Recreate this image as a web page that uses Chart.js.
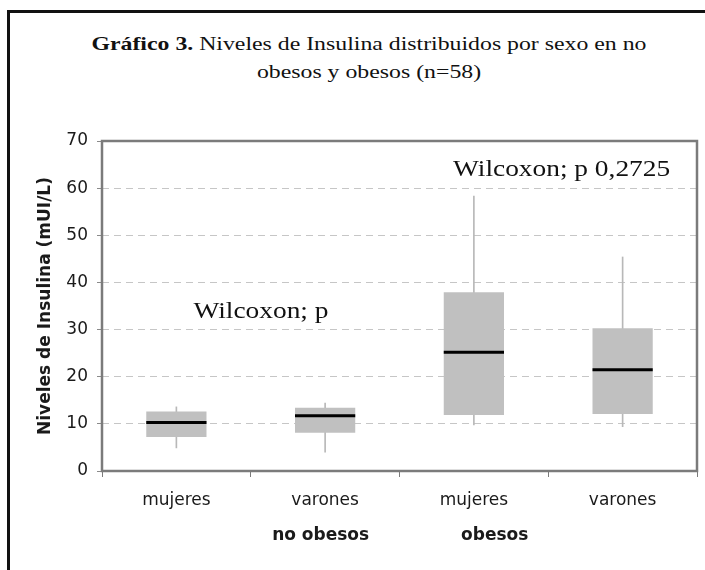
<!DOCTYPE html>
<html>
<head>
<meta charset="utf-8">
<script src="https://cdn.jsdelivr.net/npm/chart.js@4.4.1/dist/chart.umd.min.js"></script>
<style>
  html, body { margin: 0; padding: 0; background: #fff; overflow: hidden; }
  body { width: 705px; height: 570px; position: relative; }
  #frame {
    position: absolute; left: 7px; top: 10px; width: 720px; height: 600px;
    border: 3px solid #111; box-sizing: border-box;
  }
  .title {
    position: absolute; left: 69px; width: 600px; text-align: center;
    font-family: "Liberation Serif", "Times New Roman", serif; font-size: 19.5px;
    line-height: 22px; color: #111; white-space: nowrap;
    transform: scaleX(1.22); transform-origin: 50% 50%;
  }
  #chart { position: absolute; left: 0; top: 0; }
</style>
</head>
<body>
<div id="frame"></div>
<div class="title" style="top:33px"><b>Gráfico 3.</b> Niveles de Insulina distribuidos por sexo en no</div>
<div class="title" style="top:61px">obesos y obesos (n=58)</div>
<canvas id="chart" width="705" height="570"></canvas>
<script>
document.addEventListener('DOMContentLoaded', function() {
    // categories and groups
    const categories = ['mujeres', 'varones', 'mujeres', 'varones'];
    const groupLabels = ['no obesos', 'obesos'];
    const groupPos = [0.97, 2.14];

    // box plot values (mUI/L)
    const whiskerMin = [4.9, 4.0, 9.8, 9.4];
    const q1 = [7.2, 8.1, 11.9, 12.1];
    const median = [10.3, 11.7, 25.2, 21.5];
    const q3 = [12.6, 13.4, 37.9, 30.3];
    const whiskerMax = [13.6, 14.4, 58.3, 45.4];

    const yTicks = [0, 10, 20, 30, 40, 50, 60, 70];

    // annotations
    const noteTexts = ['Wilcoxon; p', 'Wilcoxon; p 0,2725'];
    const noteX = [0.115, 1.86];
    const noteY = [32.5, 62.5];

    const boxData = q1.map((v, i) => [v, q3[i]]);
    const whiskerData = whiskerMin.map((v, i) => [v, whiskerMax[i]]);

    Chart.defaults.font.family = 'DejaVu Sans';
    Chart.defaults.color = '#1a1a1a';

    const boxExtras = {
        id: 'boxExtras',
        afterDatasetsDraw(chart) {
            const ctx = chart.ctx;
            const y = chart.scales.y;
            const meta = chart.getDatasetMeta(0);
            ctx.save();
            ctx.strokeStyle = '#000';
            ctx.lineWidth = 3;
            meta.data.forEach((bar, i) => {
                const py = y.getPixelForValue(median[i]);
                ctx.beginPath();
                ctx.moveTo(bar.x - bar.width / 2, py);
                ctx.lineTo(bar.x + bar.width / 2, py);
                ctx.stroke();
            });
            ctx.restore();
        },
        afterDraw(chart) {
            const ctx = chart.ctx;
            const area = chart.chartArea;
            const x = chart.scales.x;
            const y = chart.scales.y;
            ctx.save();
            // plot border
            ctx.strokeStyle = '#7b7b7b';
            ctx.lineWidth = 2.5;
            ctx.strokeRect(area.left, area.top, area.right - area.left, area.bottom - area.top);

            // Wilcoxon notes
            ctx.fillStyle = '#111';
            ctx.font = '23px "Liberation Serif"';
            ctx.textBaseline = 'alphabetic';
            ctx.textAlign = 'left';
            noteTexts.forEach((t, i) => {
                ctx.save();
                ctx.translate(x.getPixelForValue(noteX[i]), y.getPixelForValue(noteY[i]));
                ctx.scale(1.19, 1);
                ctx.fillText(t, 0, 0);
                ctx.restore();
            });

            // group labels under the categories
            ctx.font = 'bold 17px "DejaVu Sans"';
            ctx.textAlign = 'center';
            ctx.textBaseline = 'middle';
            ctx.fillStyle = '#1a1a1a';
            groupLabels.forEach((g, i) => {
                ctx.fillText(g, x.getPixelForValue(groupPos[i]), area.bottom + 65);
            });
            ctx.restore();
        }
    };

    new Chart(document.getElementById('chart'), {
        type: 'bar',
        data: {
            labels: categories,
            datasets: [
                {
                    label: 'caja',
                    data: boxData,
                    backgroundColor: '#c0c0c0',
                    borderWidth: 0,
                    grouped: false,
                    barPercentage: 0.405,
                    categoryPercentage: 1,
                    order: 0
                },
                {
                    label: 'bigotes',
                    data: whiskerData,
                    backgroundColor: '#b8b8b8',
                    borderWidth: 0,
                    grouped: false,
                    barThickness: 1,
                    order: 1
                }
            ]
        },
        options: {
            responsive: false,
            devicePixelRatio: 1,
            animation: false,
            layout: { padding: { top: 141, right: 8, left: 0, bottom: 0 } },
            plugins: {
                legend: { display: false },
                tooltip: { enabled: false }
            },
            scales: {
                x: {
                    afterFit: s => { s.height = 99; },
                    grid: {
                        offset: true,
                        drawOnChartArea: false,
                        drawTicks: true,
                        tickLength: 6,
                        tickColor: '#7b7b7b'
                    },
                    border: { display: false },
                    ticks: { font: { size: 17 }, padding: 13, color: '#1a1a1a' }
                },
                y: {
                    min: 0,
                    max: 70,
                    afterFit: s => { s.width = 102; },
                    afterBuildTicks: s => { s.ticks = yTicks.map(v => ({ value: v })); },
                    grid: {
                        color: '#c6c6c6',
                        lineWidth: 1,
                        tickLength: 5,
                        tickColor: '#8a8a8a'
                    },
                    border: { display: false, dash: [7, 5] },
                    ticks: { font: { size: 17 }, padding: 9, color: '#1a1a1a' },
                    title: {
                        display: true,
                        text: 'Niveles de Insulina (mUI/L)',
                        font: { size: 17, weight: 'bold' },
                        color: '#1a1a1a',
                        padding: { top: 35, bottom: 0 }
                    }
                }
            }
        },
        plugins: [boxExtras]
    });
});
</script>
</body>
</html>
